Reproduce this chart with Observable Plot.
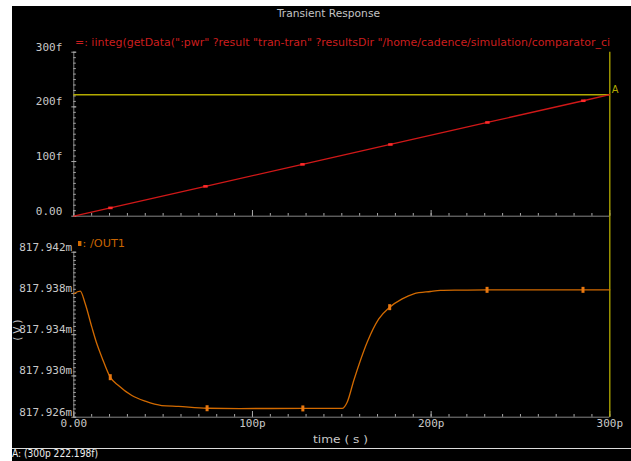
<!DOCTYPE html>
<html><head><meta charset="utf-8">
<script src="https://cdn.jsdelivr.net/npm/d3@7"></script>
<script src="https://cdn.jsdelivr.net/npm/@observablehq/plot@0.6"></script>
<style>
html,body{margin:0;padding:0;background:#fff;}
#page{position:relative;width:631px;height:461px;overflow:hidden;background:#fff;}
#frame{position:absolute;left:12px;top:6px;width:619px;height:455px;background:#000;}
.t{position:absolute;white-space:nowrap;font-family:"DejaVu Sans Condensed","Liberation Sans Narrow",sans-serif;font-size:11px;line-height:12px;height:12px;transform-origin:0 50%;}
#sep{position:absolute;left:12px;top:448px;width:619px;height:1px;background:#dcdcdc;}
.plot{position:absolute;left:12px;}
.sq{display:inline-block;width:3px;height:5px;background:#d26a00;margin-right:1px;vertical-align:1px;}
</style></head><body>
<div id="page">
  <div id="frame"></div>
  <div id="topPlot" class="plot" style="top:6px"></div>
  <div id="botPlot" class="plot" style="top:226px"></div>
  <div id="sep"></div>
</div>
<script>
// ---------- data ----------
const title = "Transient Response";
const topLegend = "=: iinteg(getData(\":pwr\" ?result \"tran-tran\" ?resultsDir \"/home/cadence/simulation/comparator_ci";
const botLegend = ": /OUT1";
const xLabel = "time ( s )";
const yLabelBot = "( V )";

// top panel: integrated power (f) vs time (p)
const topT = [0, 20.5, 73.7, 128, 177.2, 231.5, 285.2, 300];
const topV = [0, 15.2, 54.6, 94.8, 131.2, 171.5, 211.2, 222.198];
const topMarkT = [20.5, 73.7, 128, 177.2, 231.5, 285.2];
const topMarkV = [15.2, 54.6, 94.8, 131.2, 171.5, 211.2];

// bottom panel: /OUT1 (mV) vs time (p)
const botT = [0, 3.6, 6.4, 10.1, 12.9, 15.7, 20.4, 25.0, 32.5, 40.0, 49.2, 58.6, 74.6, 93, 128.2, 150.2,
              153, 156.7, 160.4, 164.2, 170.7, 176.8, 183.8, 190.3, 199.6, 205.2, 216.4, 231.3, 260, 285, 300];
const botV = [817.93797, 817.93822, 817.93700, 817.93473, 817.93312, 817.93182, 817.92988, 817.92907, 817.92810,
              817.92755, 817.92713, 817.92704, 817.92687, 817.92684, 817.92685, 817.92685,
              817.92745, 817.92956, 817.93150, 817.93327, 817.93554, 817.93667, 817.93748, 817.93797,
              817.93819, 817.93829, 817.93832, 817.93835, 817.93835, 817.93835, 817.93835];
const botMarkT = [20.4, 74.6, 128.2, 176.8, 231.3, 285];
const botMarkV = [817.92988, 817.92687, 817.92685, 817.93667, 817.93835, 817.93835];

// cursor A
const cursorT = 300;
const cursorV = 222.198;
const cursorName = "A";

// ticks
const xMajor = [0, 100, 200, 300];
const xMajorLabels = ["0.00", "100p", "200p", "300p"];
const xMinor = d3.range(0, 301, 10);
const yTopMajor = [0, 100, 200, 300];
const yTopLabels = ["0.00", "100f", "200f", "300f"];
const yTopMinor = d3.range(0, 301, 10);
const yBotMajor = [817.926, 817.930, 817.934, 817.938, 817.942];
const yBotLabels = ["817.926m", "817.930m", "817.934m", "817.938m", "817.942m"];
const yBotMinor = d3.range(0, 41).map(i => +(817.926 + i * 0.0004).toFixed(4));

// ---------- style ----------
const W = 619;
const AXIS = "#858585", TICK = "#a8a8a8", LABEL = "#c8c8c8";
const RED = "#d01818", RED_M = "#ff2a2a", ORANGE = "#d26a00", ORANGE_M = "#e87810", YELLOW = "#b3aa00";
const baseStyle = {background: "transparent", color: LABEL, fontFamily: "'DejaVu Sans Mono', monospace", fontSize: "11px"};
const rectSym = (w, h) => ({draw(ctx) { ctx.moveTo(-w/2, -h/2); ctx.lineTo(w/2, -h/2); ctx.lineTo(w/2, h/2); ctx.lineTo(-w/2, h/2); ctx.closePath(); }});

function xAxisMarks(frameH) {
  return [
    Plot.ruleX(xMinor, {x: d => d, stroke: TICK, insetTop: frameH - 2.7}),
    Plot.ruleX(xMajor, {x: d => d, stroke: TICK, insetTop: frameH - 5.7}),
  ];
}

// ---------- top panel ----------
{
  const mL = 61.3, mR = 21.7, mT = 45.7, mB = 10.3, H = 220;
  const fW = W - mL - mR, fH = H - mT - mB;
  const line = topT.map((t, i) => ({t, v: topV[i]}));
  const marks = topMarkT.map((t, i) => ({t, v: topMarkV[i]}));
  const p = Plot.plot({
    width: W, height: H, marginLeft: mL, marginRight: mR, marginTop: mT, marginBottom: mB,
    x: {domain: [0, 300], axis: null},
    y: {domain: [0, 300], axis: null},
    style: baseStyle,
    marks: [
      Plot.ruleY([0], {stroke: AXIS}),
      Plot.ruleX([0], {stroke: AXIS}),
      ...xAxisMarks(fH),
      Plot.ruleY(yTopMinor, {y: d => d, stroke: TICK, insetRight: fW - 2.5}),
      Plot.ruleY(yTopMajor, {y: d => d, stroke: TICK, insetRight: fW - 5, dx: -2}),
      Plot.text(yTopMajor, {y: d => d, text: (d, i) => yTopLabels[i], frameAnchor: "left", textAnchor: "end", dx: -11.5, dy: -5, fill: LABEL}),
      Plot.ruleY([cursorV], {y: d => d, stroke: YELLOW, strokeWidth: 1.3}),
      Plot.ruleX([cursorT], {x: d => d, stroke: YELLOW, strokeWidth: 1.3, insetBottom: -mB}),
      Plot.line(line, {x: "t", y: "v", stroke: RED, strokeWidth: 1.3}),
      Plot.dot(marks, {x: "t", y: "v", symbol: rectSym(4.4, 2.6), fill: RED_M, stroke: "none"}),
      Plot.text([cursorName], {x: () => cursorT, y: () => cursorV, text: d => d, textAnchor: "start", dx: 2, dy: -5, fill: YELLOW,
        fontFamily: "'DejaVu Sans Condensed', sans-serif", fontSize: 11})
    ]
  });
  document.getElementById("topPlot").append(p);
}

// ---------- bottom panel ----------
{
  const mL = 61.3, mR = 21.7, mT = 25.7, mB = 32.3, H = 223;
  const fW = W - mL - mR, fH = H - mT - mB;
  const line = botT.map((t, i) => ({t, v: botV[i]}));
  const marks = botMarkT.map((t, i) => ({t, v: botMarkV[i]}));
  const p = Plot.plot({
    width: W, height: H, marginLeft: mL, marginRight: mR, marginTop: mT, marginBottom: mB,
    x: {domain: [0, 300], axis: null},
    y: {domain: [817.926, 817.942], axis: null},
    style: baseStyle,
    marks: [
      Plot.ruleY([817.926], {y: d => d, stroke: AXIS}),
      Plot.ruleX([0], {stroke: AXIS}),
      ...xAxisMarks(fH),
      Plot.text(xMajor, {x: d => d, text: (d, i) => xMajorLabels[i], frameAnchor: "bottom", dy: 9.5, fill: LABEL}),
      Plot.ruleY(yBotMinor, {y: d => d, stroke: TICK, insetRight: fW - 2.5}),
      Plot.ruleY(yBotMajor, {y: d => d, stroke: TICK, insetRight: fW - 5, dx: -2}),
      Plot.text(yBotMajor, {y: d => d, text: (d, i) => yBotLabels[i], frameAnchor: "left", textAnchor: "end", dx: -1.6, dy: -5, fill: LABEL}),
      Plot.ruleX([cursorT], {x: d => d, stroke: YELLOW, strokeWidth: 1.3, insetTop: -mT}),
      Plot.line(line, {x: "t", y: "v", stroke: ORANGE, strokeWidth: 1.3, curve: "monotone-x"}),
      Plot.dot(marks, {x: "t", y: "v", symbol: rectSym(3, 6), fill: ORANGE_M, stroke: "none"})
    ]
  });
  document.getElementById("botPlot").append(p);
}

// ---------- texts ----------
const page = document.getElementById("page");
function addText(html, left, cy, w, color, extra) {
  const d = document.createElement("div");
  d.className = "t";
  d.innerHTML = html;
  d.style.left = left + "px";
  d.style.top = (cy - 6) + "px";
  d.style.color = color;
  if (extra) Object.assign(d.style, extra);
  page.append(d);
  if (w) {
    const ww = d.getBoundingClientRect().width;
    d.style.transform = `scaleX(${w / ww})`;
  }
  return d;
}
const esc = s => s.replace(/&/g, "&amp;").replace(/</g, "&lt;").replace(/"/g, "&quot;");
addText(esc(title), 277, 14, 103, "#c4c4c4");
addText(esc(topLegend), 75, 43, 535, "#cc1e1e");
addText('<span class="sq"></span>' + esc(botLegend), 78, 244, 47, "#c86400");
addText(esc(xLabel), 313, 440, 55, "#c8c8c8");
addText(esc(`${cursorName}: (${cursorT}p ${cursorV}f)`), 12, 454, 86, "#ececec");
const yl = addText(esc(yLabelBot), 0, 336, 0, "#c8c8c8");
yl.style.left = "18px";
yl.style.transformOrigin = "0 0";
yl.style.transform = "rotate(-90deg) translate(-50%, -50%)";
</script>
</body></html>
